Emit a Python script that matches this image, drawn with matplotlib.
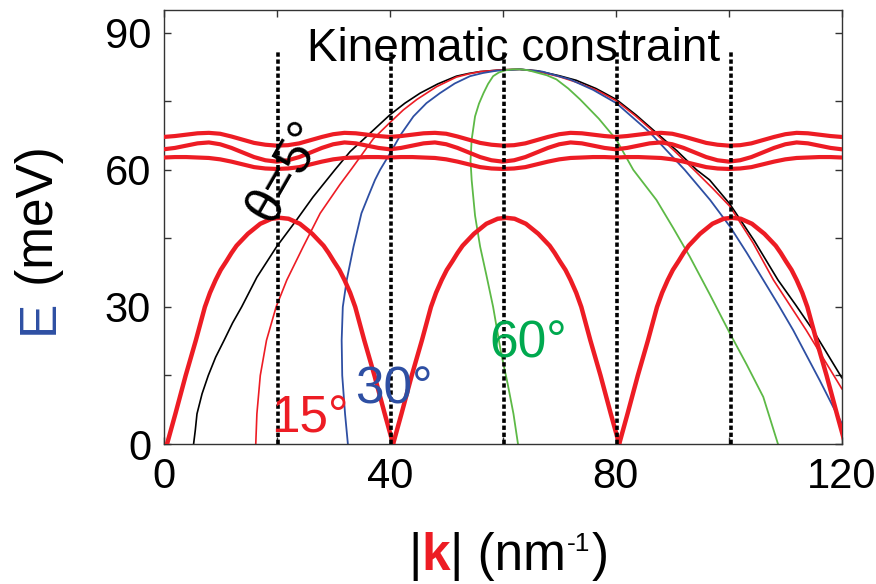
import matplotlib
matplotlib.use("Agg")
import matplotlib.pyplot as plt
import numpy as np

plt.rcParams['font.family'] = ['Liberation Sans', 'DejaVu Sans']

RED = '#ED1C24'
BLUE = '#2E4FA3'
GREEN = '#00A94F'

# acoustic branch, one arch (offset from its zero, energy), repeated in each zone
zone_start = [0.6, 40.6, 80.6]
arch_d = [0, 1.5, 3.3, 5.1, 6.7, 7.6, 8.6, 9.5, 10.5, 11.4, 12.3, 14.3, 16.5, 18.5, 20.0,
          21.5, 23.5, 25.7, 27.7, 28.6, 29.5, 30.5, 31.4, 32.4, 33.3, 34.9, 36.7, 38.5, 40.0]
arch_E = [0, 6.7, 15.0, 22.7, 30.0, 33.1, 35.9, 38.1, 40.0, 41.8, 43.4, 46.0, 48.2, 49.3, 49.5,
          49.3, 48.2, 46.0, 43.4, 41.8, 40.0, 38.1, 35.9, 33.1, 30.0, 22.7, 15.0, 6.7, 0]

# optical branches (flat bands), one period of 40 nm^-1
band_k = [0, 2, 4, 6, 8, 10, 12, 14, 16, 18, 20, 22, 24, 26, 28, 30, 32, 34, 36, 38, 40]
band_top = [67.2, 67.4, 67.7, 68.0, 68.1, 67.9, 67.3, 66.6, 65.9, 65.5, 65.3,
            65.4, 65.8, 66.5, 67.2, 67.8, 68.1, 68.0, 67.7, 67.4, 67.2]
band_mid = [64.5, 64.8, 65.3, 65.8, 66.0, 65.6, 64.8, 63.8, 62.8, 62.1, 61.8,
            62.1, 62.8, 63.8, 64.8, 65.6, 66.0, 65.8, 65.3, 64.8, 64.5]
band_low = [62.7, 62.8, 62.8, 62.7, 62.6, 62.3, 61.8, 61.2, 60.6, 60.3, 60.2,
            60.3, 60.6, 61.2, 61.8, 62.3, 62.6, 62.7, 62.8, 62.8, 62.7]

# kinematic constraint curves for several angles
k_5 = [5.3, 5.6, 5.9, 6.8, 7.9, 9.2, 10.7, 12.2, 13.8, 16.5, 20.0, 23.5, 26.4, 30.3,
       33.0, 35.9, 40.0, 42.7, 45.4, 48.5, 51.8, 54.0, 56.0, 60.0, 63.0, 66.0, 70.0,
       73.0, 76.5, 80.1, 83.6, 87.2, 90.8, 94.3, 96.6, 100.2, 104.5, 108.7, 111.8,
       114.9, 120.0]
E_5 = [0, 3.0, 6.6, 11.0, 15.0, 19.0, 22.7, 26.5, 30.0, 36.5, 43.2, 49.0, 54.0, 60.0,
       64.0, 67.3, 72.0, 74.6, 76.8, 78.8, 80.5, 81.1, 81.5, 81.9, 82.0, 81.7, 80.6,
       79.6, 77.8, 75.4, 72.0, 68.1, 64.2, 60.0, 57.8, 52.5, 44.5, 35.9, 30.5,
       24.9, 14.5]

k_15 = [16.3, 16.5, 17.1, 18.2, 19.9, 21.8, 24.7, 27.7, 31.2, 33.3, 37.1, 40.0, 42.4,
        44.8, 48.3, 51.8, 54.0, 56.0, 60.0, 63.0, 66.0, 70.0, 73.0, 76.5, 80.0, 83.5,
        87.0, 90.5, 94.0, 97.1, 100.2, 104.3, 107.9, 110.8, 113.7, 120.0]
E_15 = [0, 6.6, 15.0, 22.7, 30.0, 35.9, 43.2, 50.5, 56.8, 60.3, 66.8, 70.3, 73.1,
        75.4, 78.2, 80.3, 81.0, 81.5, 81.9, 82.0, 81.6, 80.4, 79.2, 77.5, 75.2, 71.8,
        68.0, 64.0, 59.8, 56.0, 52.0, 44.0, 35.9, 30.4, 24.9, 12.1]

k_30 = [32.6, 32.1, 31.6, 31.5, 31.7, 32.4, 33.6, 35.0, 36.3, 37.4, 38.3, 40.0, 42.0,
        44.2, 46.5, 48.9, 51.5, 54.2, 56.5, 58.9, 63.0, 67.0, 71.9, 76.0, 80.1, 86.1,
        92.2, 96.7, 100.2, 103.2, 106.1, 108.8, 111.4, 116.1, 118.8, 120.0]
E_30 = [0, 6.6, 15.0, 22.7, 30.0, 35.9, 43.2, 50.5, 54.5, 57.8, 60.0, 63.5, 67.8,
        71.7, 74.6, 76.8, 78.9, 80.5, 81.2, 81.7, 82.0, 81.5, 79.8, 77.5, 74.6, 68.1,
        60.0, 53.4, 47.6, 41.8, 35.9, 30.4, 24.9, 13.9, 7.3, 4.5]

k_60 = [62.7, 61.9, 60.9, 59.7, 59.0, 58.3, 57.1, 56.0, 55.1, 54.5, 54.3, 54.5, 55.1,
        55.8, 56.6, 57.4, 58.3, 59.3, 60.5, 61.8, 63.1, 64.5, 66.0, 67.8, 69.5, 71.6,
        73.7, 77.0, 80.1, 83.1, 87.2, 90.2, 93.1, 96.7, 100.2, 103.2, 106.1, 108.7]
E_60 = [0, 6.6, 13.0, 20.0, 25.0, 30.0, 37.0, 43.2, 50.0, 57.8, 62.0, 66.6, 71.7,
        74.5, 76.8, 78.8, 80.5, 81.3, 81.8, 82.0, 82.0, 81.8, 81.3, 80.7, 79.8, 77.8,
        75.4, 71.2, 66.6, 60.0, 53.4, 47.2, 41.0, 32.6, 24.2, 17.3, 10.3, 0]

zone_lines = [20.2, 40.2, 60.2, 80.3, 100.4]

fig = plt.figure(figsize=(8.76, 5.84), dpi=100)
ax = fig.add_axes([0.1868, 0.2397, 0.7742, 0.7433])

ax.plot(k_5, E_5, color='black', lw=1.2, zorder=2)
ax.plot(k_15, E_15, color=RED, lw=1.2, zorder=2)
ax.plot(k_30, E_30, color=BLUE, lw=1.3, zorder=2)
ax.plot(k_60, E_60, color='#5DB946', lw=1.3, zorder=2)

band_k = np.array(band_k)
for z in [0, 40, 80]:
    for band in (band_top, band_mid, band_low):
        ax.plot(band_k + z, band, color=RED, lw=3.0, zorder=3,
                solid_capstyle='round', solid_joinstyle='round')

arch_d = np.array(arch_d)
for z in zone_start:
    ax.plot(arch_d + z, arch_E, color=RED, lw=3.2, zorder=3, solid_joinstyle='round')

for x in zone_lines:
    ax.plot([x, x], [0, 85.8], color='black', lw=2.6, ls=(0, (1.2, 0.75)), zorder=4)

ax.text(25.4, 83.8, 'Kinematic constraint', fontsize=33, ha='left', va='baseline')
ax.text(21.65, 59.6, 'θ=5°', fontsize=37, rotation=60, rotation_mode='anchor',
        ha='center', va='center', zorder=5)
ax.text(19.1, 2.6, '15°', fontsize=37, color=RED, ha='left', va='baseline', zorder=5)
ax.text(33.8, 8.9, '30°', fontsize=37, color=BLUE, ha='left', va='baseline', zorder=5)
ax.text(57.7, 19.0, '60°', fontsize=37, color=GREEN, ha='left', va='baseline', zorder=5)

ax.set_xlim(0, 120)
ax.set_ylim(0, 95)
ax.set_xticks(range(0, 121, 20))
ax.set_xticklabels(['0', '', '40', '', '80', '', '120'])
ax.set_yticks(range(0, 91, 15))
ax.set_yticklabels(['0', '', '30', '', '60', '', '90'])
ax.tick_params(direction='in', top=True, right=True, length=5, width=1,
               labelsize=30, pad=9, color='#333333')
for s in ax.spines.values():
    s.set_color('#333333')
    s.set_linewidth(1.0)

# y label: blue E followed by black units
t1 = fig.text(53 / 876, 1 - 334 / 584, 'E', fontsize=37, color=BLUE, rotation=90,
              rotation_mode='anchor', ha='left', va='baseline')
ax.annotate(' (meV)', xy=(0, 1), xycoords=t1, fontsize=37, rotation=90,
            ha='left', va='bottom', annotation_clip=False)

# x label: |k| with red bold k, small raised "-1"
t2 = fig.text(408 / 876, 1 - 570 / 584, '|', fontsize=37, ha='left', va='baseline')
t3 = ax.annotate('k', xy=(1, 0), xycoords=t2, fontsize=37, color=RED,
                 fontweight='bold', ha='left', va='bottom', annotation_clip=False)
t4 = ax.annotate('| (nm', xy=(1, 0), xycoords=t3, fontsize=37,
                 ha='left', va='bottom', annotation_clip=False)
t5 = ax.annotate('-1', xy=(1, 0), xycoords=t4, xytext=(1, 18),
                 textcoords='offset points', fontsize=19,
                 ha='left', va='bottom', annotation_clip=False)
ax.annotate(')', xy=(1, 0), xycoords=(t5, t4), xytext=(1, 0),
            textcoords='offset points', fontsize=37,
            ha='left', va='bottom', annotation_clip=False)

fig.savefig('out.png', dpi=100)
